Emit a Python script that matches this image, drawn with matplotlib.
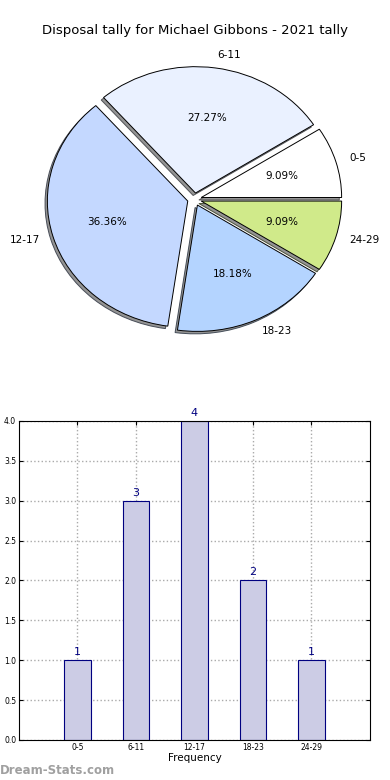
import matplotlib
matplotlib.use("Agg")
import matplotlib.pyplot as plt

# Data
categories = ["0-5", "6-11", "12-17", "18-23", "24-29"]
counts = [1, 3, 4, 2, 1]
pie_colors = ["#ffffff", "#eaf1ff", "#c4d8ff", "#b4d4ff", "#d0ea8a"]

fig = plt.figure(figsize=(3.9, 7.8), dpi=100)

# ---- Pie ----
ax1 = fig.add_axes([0.0487, 0.542, 0.9, 0.405])
ax1.pie(counts, labels=categories, colors=pie_colors, explode=[0.05] * 5,
        autopct="%1.2f%%", startangle=0,
        shadow={"ox": -0.012, "oy": -0.014, "facecolor": "#888888",
                "alpha": 0.9},
        wedgeprops={"edgecolor": "black", "linewidth": 0.7},
        textprops={"fontsize": 7.5})
ax1.set_aspect("auto")
ax1.set_xlim(-1.25, 1.25)
ax1.set_ylim(-1.25, 1.25)
fig.text(0.5, 0.961, "Disposal tally for Michael Gibbons - 2021 tally",
         ha="center", va="center", fontsize=9.5)

# ---- Bars ----
ax2 = fig.add_axes([0.0487, 0.0513, 0.9, 0.409])
x = list(range(len(categories)))
ax2.bar(x, counts, width=0.45, color="#ccccE5", edgecolor="#000080",
        linewidth=0.8, zorder=2)
for xi, c in zip(x, counts):
    ax2.text(xi, c + 0.04, str(c), ha="center", va="bottom",
             color="#000080", fontsize=8)
ax2.set_xlim(-1, 5)
ax2.set_ylim(0, 4)
ax2.set_xticks(x)
ax2.set_xticklabels(categories, fontsize=5.5)
ax2.set_yticks([0, 0.5, 1.0, 1.5, 2.0, 2.5, 3.0, 3.5, 4.0])
ax2.set_yticklabels(["0.0", "0.5", "1.0", "1.5", "2.0", "2.5", "3.0", "3.5", "4.0"],
                    fontsize=5.5)
ax2.tick_params(direction="in", top=True, right=True, length=3, pad=2)
ax2.grid(True, linestyle=":", color="#aaaaaa", linewidth=1.0, zorder=0)
ax2.set_axisbelow(True)
ax2.set_xlabel("Frequency", fontsize=7.5, labelpad=1)

fig.text(0.0, 0.004, "Dream-Stats.com", color="#a0a0a0", fontsize=8.5,
         fontweight="bold", ha="left", va="bottom")

fig.savefig("out.png", dpi=100)
